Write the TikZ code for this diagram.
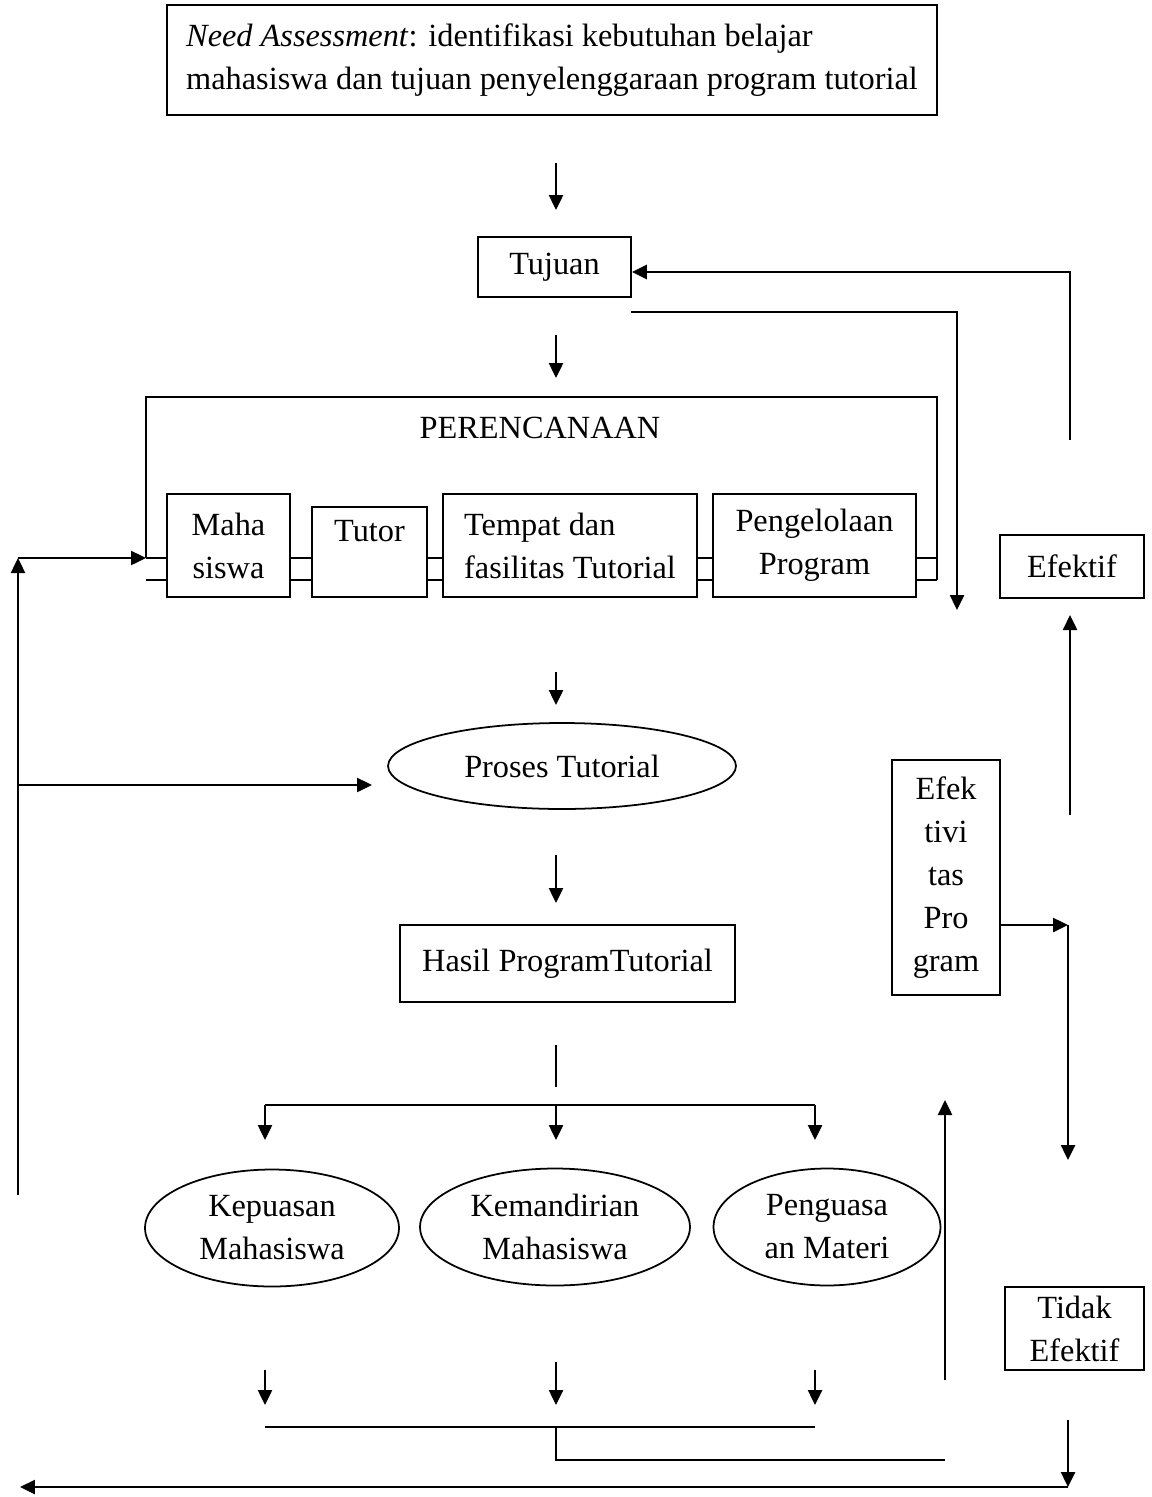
\documentclass[tikz,border=0pt]{standalone}
\usepackage{fontspec}
\setmainfont{Liberation Serif}
\usetikzlibrary{arrows.meta,shapes.geometric}

\tikzset{kotak/.style 2 args = {draw, line width=1pt, inner sep=0pt, align=center,
                                minimum width=#1, minimum height=#2},
         bulat/.style 2 args = {kotak={#1}{#2}, ellipse},
         panah/.style = {line width=1.4pt, -{Triangle[length=3mm,width=2.8mm]}},
         garis/.style = {line width=1.4pt}
        }

\begin{document}
\begin{tikzpicture}[x=0.02cm, y=-0.02cm, font=\fontsize{18.4}{24.5}\selectfont]
  \useasboundingbox (0,0) rectangle (1152,1497);

  % kotak-kotak utama
  \node[kotak={15.4cm}{2.2cm}, align=left] (need) at (552,60)
       {\textit{Need Assessment}: identifikasi kebutuhan belajar\\mahasiswa dan tujuan penyelenggaraan program tutorial};
  \node[kotak={3.06cm}{1.2cm}] (tujuan) at (554.5,267) {Tujuan};
  \node (plan) at (540,428) {PERENCANAAN};
  \node[kotak={2.46cm}{2.06cm}] (maha) at (228.5,545.5) {Maha\\siswa};
  \node[kotak={2.3cm}{1.8cm}] (tutor) at (369.5,552) {Tutor\\\mbox{}};
  \node[kotak={5.08cm}{2.06cm}, align=left] (tempat) at (570,545.5)
       {Tempat dan\\fasilitas Tutorial};
  \node[kotak={4.06cm}{2.06cm}] (kelola) at (814.5,545.5) {Pengelolaan\\Program};
  \node[bulat={6.96cm}{1.72cm}] (proses) at (562,766) {Proses Tutorial};
  \node[kotak={6.7cm}{1.54cm}] (hasil) at (567.5,963.5) {Hasil ProgramTutorial};
  \node[bulat={5.08cm}{2.34cm}] (puas) at (272,1228) {Kepuasan\\Mahasiswa};
  \node[bulat={5.4cm}{2.34cm}] (mandiri) at (555,1227) {Kemandirian\\Mahasiswa};
  \node[bulat={4.54cm}{2.34cm}] (kuasa) at (827,1227) {Penguasa\\an Materi};
  \node[kotak={2.16cm}{4.7cm}] (efprog) at (946,877.5) {Efek\\tivi\\tas\\Pro\\gram};
  \node[kotak={2.88cm}{1.26cm}] (efektif) at (1072,566.5) {Efektif};
  \node[kotak={2.78cm}{1.66cm}] (tidak) at (1074.5,1328.5) {Tidak\\Efektif};

  % bingkai perencanaan
  \draw[line width=1pt] (146,558) -- (146,397) -- (937,397) -- (937,580);
  \foreach \a/\b in {146/167, 290/312, 427/443, 697/713, 916/937}
    \draw[line width=1pt] (\a,558) -- (\b,558) (\a,580) -- (\b,580);

  % panah pendek di tengah
  \foreach \x/\ya/\yb [count=\i] in {556/163/210, 556/335/378, 556/672/705, 556/855/903,
                                     265/1105/1140, 556/1105/1140, 815/1105/1140,
                                     265/1370/1405, 556/1362/1405, 815/1370/1405}
  {
    \coordinate (p\i) at (\x,\ya);
    \coordinate (q\i) at (\x,\yb);
    \draw[panah] (p\i) -- (q\i);
  }

  % cabang dari hasil
  \coordinate (h1) at (556,1045);
  \coordinate (h2) at (556,1087);
  \draw[garis] (h1) -- (h2);
  \draw[garis] (p5) -- (p7);

  % gabungan di bawah
  \coordinate (g1) at (265,1427);
  \coordinate (g2) at (815,1427);
  \coordinate (g3) at (556,1427);
  \coordinate (g4) at (945,1460);
  \draw[garis] (g1) -- (g2);
  \draw[garis] (g3) |- (g4);

  % umpan balik kiri
  \coordinate (k1) at (18,1195);
  \coordinate (k2) at (18,558);
  \coordinate (k3) at (18,785);
  \coordinate (k4) at (372,785);
  \draw[panah] (k1) -- (k2);
  \draw[panah] (k2) -- (146,558);
  \draw[panah] (k3) -- (k4);

  % sisi kanan
  \coordinate (r1) at (1070,440);
  \coordinate (r2) at (631,312);
  \coordinate (r3) at (957,610);
  \coordinate (r4) at (1070,815);
  \coordinate (r5) at (1070,615);
  \coordinate (r6) at (1068,925);
  \coordinate (r7) at (1068,1160);
  \coordinate (r8) at (945,1380);
  \coordinate (r9) at (945,1100);
  \coordinate (r10) at (1068,1420);
  \coordinate (r11) at (1068,1487);
  \coordinate (r12) at (20,1487);
  \draw[panah] (r1) |- ([yshift=-0.1cm]tujuan.east);
  \draw[panah] (r2) -| (r3);
  \draw[panah] (r4) -- (r5);
  \draw[panah] (efprog.east |- r6) -- (r6);
  \draw[panah] (r6) -- (r7);
  \draw[panah] (r8) -- (r9);
  \draw[panah] (r10) -- (r11);
  \draw[panah] (r11) -- (r12);
\end{tikzpicture}
\end{document}
